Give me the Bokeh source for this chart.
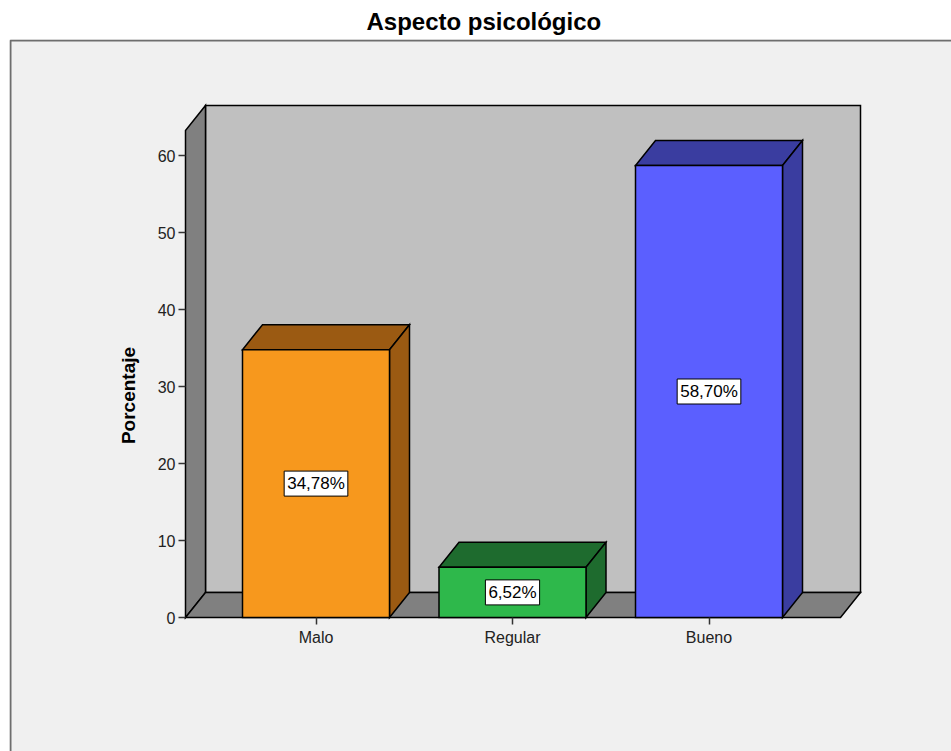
from bokeh.plotting import figure
from bokeh.models import Range1d, LinearAxis, FixedTicker, Title
from bokeh.core.properties import value
from bokeh.embed import file_html
from bokeh.resources import INLINE

# ---- data -------------------------------------------------------------
chart_title = "Aspecto psicológico"
categories = ["Malo", "Regular", "Bueno"]
percentages = [34.78, 6.52, 58.70]
value_labels = ["34,78%", "6,52%", "58,70%"]
y_ticks = [0, 10, 20, 30, 40, 50, 60]
y_axis_label = "Porcentaje"

front_colors = ["#F7981D", "#2EB84B", "#5B5FFF"]
shade_colors = ["#9B5A12", "#1E6B2E", "#3A3DA0"]

# ---- layout (pixels) --------------------------------------------------
W, H = 951, 751
FRAME_LEFT, FRAME_TOP = 9, 39
PX_PER_CAT = 196.5          # horizontal distance between category centres
PX_PER_PCT = 7.7            # vertical pixels per percentage point
FIRST_CAT_PX = 315.5        # canvas x of the first category centre
ZERO_PX = 617               # canvas y of the 0 % baseline
AXIS_PX = 185               # canvas x of the vertical axis
WALL_TOP_PX = 105           # canvas y of the top edge of the back wall
WALL_RIGHT_PX = 860         # canvas x of the right edge of the back wall
DEPTH_X_PX, DEPTH_Y_PX = 20, 25
BAR_WIDTH_PX = 147
TITLE_LEFT_PX = 366

frame_w = W - FRAME_LEFT
frame_h = H - FRAME_TOP

x0 = 1 - (FIRST_CAT_PX - FRAME_LEFT) / PX_PER_CAT
x1 = x0 + frame_w / PX_PER_CAT
y0 = -(H - ZERO_PX) / PX_PER_PCT
y1 = (ZERO_PX - FRAME_TOP) / PX_PER_PCT


def xd(px):
    return x0 + (px - FRAME_LEFT) / PX_PER_CAT


def yd(py):
    return (ZERO_PX - py) / PX_PER_PCT


DX = DEPTH_X_PX / PX_PER_CAT
DY = DEPTH_Y_PX / PX_PER_PCT
HW = BAR_WIDTH_PX / PX_PER_CAT / 2
xa = xd(AXIS_PX)
xr = xd(WALL_RIGHT_PX)
ytop = yd(WALL_TOP_PX)

FONT = "Liberation Sans"

p = figure(
    width=W, height=H,
    x_range=Range1d(x0, x1), y_range=Range1d(y0, y1),
    x_axis_type=None, y_axis_type=None,
    toolbar_location=None, output_backend="svg",
    min_border_left=FRAME_LEFT, min_border_top=FRAME_TOP,
    min_border_right=0, min_border_bottom=0,
)
p.background_fill_color = "#F0F0F0"
p.border_fill_color = "white"
p.outline_line_color = None
p.grid.visible = False

# chart title above the panel
p.title = Title(text=chart_title, align="left", offset=TITLE_LEFT_PX - FRAME_LEFT,
                text_font=FONT, text_font_style="bold", text_font_size="24px",
                text_color="black", standoff=9)

# panel border (left and top edges)
edge_x = xd(FRAME_LEFT + 1)
edge_y = yd(FRAME_TOP + 1)
p.line([edge_x, edge_x, x1], [y0, edge_y, edge_y], line_color="#6E6E6E", line_width=2)

EDGE = dict(line_color="black", line_width=1.5, line_join="miter")

# back wall, left wall and floor of the 3D box
p.patch([xa + DX, xr, xr, xa + DX], [DY, DY, ytop, ytop], fill_color="#C0C0C0", **EDGE)
p.patch([xa, xa + DX, xa + DX, xa], [0, DY, ytop, ytop - DY], fill_color="#808080", **EDGE)
p.patch([xa, xr - DX, xr, xa + DX], [0, 0, DY, DY], fill_color="#808080", **EDGE)

# bars: top face, side face, front face
centres = [i + 1 for i in range(len(categories))]
for c, v, fc, sc in zip(centres, percentages, front_colors, shade_colors):
    p.patch([c - HW, c + HW, c + HW + DX, c - HW + DX], [v, v, v + DY, v + DY],
            fill_color=sc, **EDGE)
    p.patch([c + HW, c + HW + DX, c + HW + DX, c + HW], [0, DY, v + DY, v],
            fill_color=sc, **EDGE)
p.quad(left=[c - HW for c in centres], right=[c + HW for c in centres],
       bottom=0, top=percentages, fill_color=front_colors, **EDGE)

# value labels in white boxes
p.text(x=centres, y=[v / 2 for v in percentages], text=value_labels,
       text_align="center", text_baseline="middle",
       text_font=value(FONT), text_font_size="17px", text_color="black",
       background_fill_color="white", border_line_color="black", border_line_width=1,
       padding=3)

# axes
yaxis = LinearAxis(fixed_location=xa, ticker=FixedTicker(ticks=y_ticks),
                   axis_label=y_axis_label)
yaxis.axis_line_color = None
yaxis.major_tick_in = 0
yaxis.major_tick_out = 7
yaxis.major_tick_line_color = "#333333"
yaxis.major_tick_line_width = 1.5
yaxis.minor_tick_line_color = None
yaxis.major_label_text_font = FONT
yaxis.major_label_text_font_size = "16px"
yaxis.major_label_text_color = "#222222"
yaxis.major_label_standoff = 3
yaxis.axis_label_text_font = FONT
yaxis.axis_label_text_font_style = "bold"
yaxis.axis_label_text_font_size = "19px"
yaxis.axis_label_text_color = "black"
yaxis.axis_label_standoff = 16
p.add_layout(yaxis, "left")

xaxis = LinearAxis(fixed_location=0, ticker=FixedTicker(ticks=centres),
                   major_label_overrides={c: n for c, n in zip(centres, categories)})
xaxis.axis_line_color = None
xaxis.major_tick_in = 0
xaxis.major_tick_out = 7
xaxis.major_tick_line_color = "#333333"
xaxis.major_tick_line_width = 1.5
xaxis.minor_tick_line_color = None
xaxis.major_label_text_font = FONT
xaxis.major_label_text_font_size = "16px"
xaxis.major_label_text_color = "#222222"
xaxis.major_label_standoff = 4
p.add_layout(xaxis, "below")

open("out.html", "w").write(file_html(p, INLINE))
